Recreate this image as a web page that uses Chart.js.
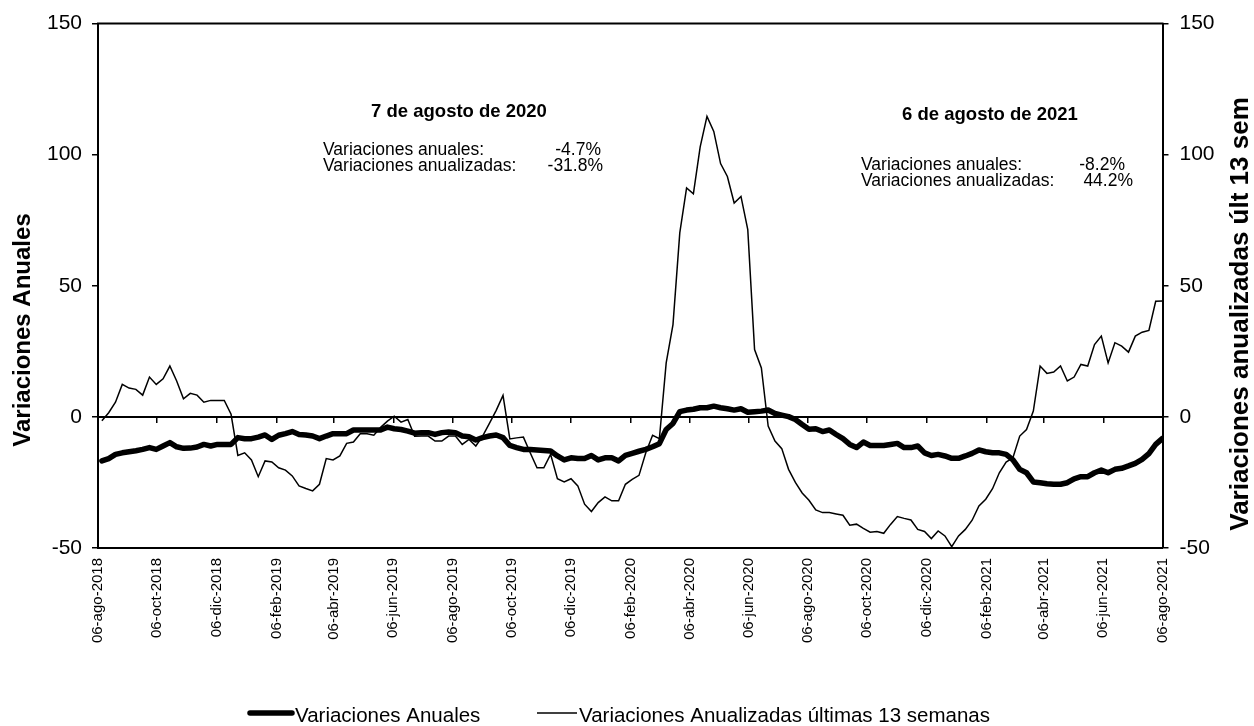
<!DOCTYPE html>
<html lang="es">
<head>
<meta charset="utf-8">
<title>Variaciones anuales y anualizadas</title>
<script src="https://cdn.jsdelivr.net/npm/chart.js@4.4.1/dist/chart.umd.min.js"></script>
<style>
  html, body { margin: 0; padding: 0; background: #fff; }
  canvas { display: block; }
</style>
</head>
<body>
<canvas id="grafico" width="1254" height="726"></canvas>
<script>
// etiquetas del eje de fechas (cada 2 meses)
const etiquetasX = ['06-ago-2018', '06-oct-2018', '06-dic-2018', '06-feb-2019', '06-abr-2019',
  '06-jun-2019', '06-ago-2019', '06-oct-2019', '06-dic-2019', '06-feb-2020', '06-abr-2020',
  '06-jun-2020', '06-ago-2020', '06-oct-2020', '06-dic-2020', '06-feb-2021', '06-abr-2021',
  '06-jun-2021', '06-ago-2021'];
const ticksY = [-50, 0, 50, 100, 150];

// datos semanales, viernes desde 10-ago-2018 hasta 06-ago-2021
const primerViernes = '10-ago-2018';
const variacionesAnuales = [
  -16.8, -15.9, -14.3, -13.7, -13.3, -12.9, -12.4, -11.7, -12.4, -11.1,
  -9.8, -11.4, -12.0, -11.9, -11.5, -10.5, -11.1, -10.5, -10.5, -10.5,
  -7.9, -8.3, -8.3, -7.7, -6.9, -8.6, -7.0, -6.4, -5.6, -6.7,
  -6.9, -7.3, -8.3, -7.3, -6.4, -6.4, -6.4, -5.0, -5.0, -5.0,
  -5.0, -5.0, -3.9, -4.5, -4.8, -5.4, -6.2, -6.0, -6.0, -6.7,
  -6.0, -5.8, -6.0, -7.3, -7.6, -8.8, -7.9, -7.3, -6.9, -7.9,
  -10.9, -11.7, -12.4, -12.4, -12.6, -12.8, -13.0, -14.9, -16.4, -15.6,
  -15.9, -15.9, -14.7, -16.4, -15.6, -15.6, -16.8, -14.7, -13.9, -13.1,
  -12.4, -11.4, -10.2, -4.8, -2.5, 2.0, 2.6, 2.9, 3.5, 3.5,
  4.1, 3.5, 3.1, 2.6, 3.1, 1.8, 2.0, 2.2, 2.6, 1.3,
  0.7, 0.1, -1.0, -2.9, -4.7, -4.5, -5.6, -5.0, -6.7, -8.3,
  -10.5, -11.7, -9.6, -10.9, -10.9, -10.9, -10.5, -10.1, -11.7, -11.7,
  -11.1, -13.7, -14.7, -14.3, -14.9, -15.8, -15.8, -14.9, -13.9, -12.6,
  -13.3, -13.7, -13.7, -14.3, -16.4, -20.0, -21.3, -24.8, -25.1, -25.5,
  -25.7, -25.7, -25.1, -23.6, -22.8, -22.8, -21.3, -20.3, -21.3, -20.0,
  -19.6, -18.7, -17.7, -16.2, -14.0, -10.5, -8.2
];
const variacionesAnualizadas = [
  -1.5, 1.6, 5.6, 12.4, 11.0, 10.5, 8.3, 15.2, 12.4, 14.5,
  19.4, 13.7, 6.9, 9.0, 8.3, 5.6, 6.3, 6.3, 6.3, 1.0,
  -14.7, -13.7, -16.4, -22.8, -16.8, -17.2, -19.4, -20.3, -22.5, -26.3,
  -27.3, -28.2, -25.7, -15.9, -16.4, -14.9, -10.1, -9.6, -6.4, -6.4,
  -7.0, -4.0, -1.6, 0.3, -2.0, -1.0, -7.4, -7.3, -7.3, -9.2,
  -9.2, -7.3, -7.3, -10.5, -8.6, -11.1, -7.3, -2.5, 2.5, 8.2,
  -8.4, -8.0, -7.7, -13.7, -19.4, -19.4, -14.3, -23.6, -24.8, -23.6,
  -26.3, -33.3, -36.1, -32.7, -30.5, -32.0, -32.0, -25.7, -23.8, -22.3,
  -13.7, -7.0, -8.3, 20.6, 35.2, 70.2, 87.3, 85.1, 103.0, 114.6,
  108.9, 96.6, 91.7, 81.6, 84.1, 71.4, 25.7, 18.7, -3.5, -9.2,
  -12.1, -20.0, -25.0, -29.0, -31.8, -35.5, -36.5, -36.5, -37.0, -37.5,
  -41.3, -40.9, -42.5, -44.0, -43.7, -44.4, -41.0, -38.0, -38.7, -39.3,
  -42.9, -43.7, -46.4, -43.5, -45.4, -49.5, -45.4, -42.9, -39.4, -34.0,
  -31.4, -27.4, -21.3, -17.2, -15.6, -7.3, -4.8, 2.2, 19.4, 16.6,
  17.1, 19.4, 13.7, 15.2, 20.0, 19.4, 27.6, 30.8, 20.6, 28.3,
  27.0, 24.7, 30.8, 32.3, 33.0, 44.1, 44.2
];

const notas = [
  { titulo: '7 de agosto de 2020', anual: '-4.7%', anualizada: '-31.8%' },
  { titulo: '6 de agosto de 2021', anual: '-8.2%', anualizada: '44.2%' }
];

const FUENTE = '"Liberation Sans", Arial, sans-serif';
const meses = { ene: 0, feb: 1, mar: 2, abr: 3, may: 4, jun: 5, jul: 6, ago: 7, sep: 8, oct: 9, nov: 10, dic: 11 };
function dia(txt) { // dias desde 06-ago-2018
  const p = txt.split('-');
  return (Date.UTC(+p[2], meses[p[1]], +p[0]) - Date.UTC(2018, 7, 6)) / 86400000;
}
const diasX = etiquetasX.map(dia);
const nombreTick = {};
diasX.forEach((d, i) => { nombreTick[d] = etiquetasX[i]; });
const d0 = dia(primerViernes);
const puntos = arr => arr.map((v, i) => ({ x: d0 + 7 * i, y: v }));

function ticksFecha(scale) { scale.ticks = diasX.map(v => ({ value: v })); }

const decoracion = {
  id: 'decoracion',
  afterDraw(chart) {
    const ctx = chart.ctx, a = chart.chartArea;
    ctx.save();
    ctx.strokeStyle = '#000';
    ctx.lineWidth = 2;
    ctx.beginPath();
    ctx.moveTo(a.left - 1, a.top);
    ctx.lineTo(a.right + 1, a.top);
    ctx.stroke();

    ctx.fillStyle = '#000';
    // titulos de ejes
    ctx.font = 'bold 24px ' + FUENTE;
    ctx.textAlign = 'center';
    ctx.textBaseline = 'middle';
    ctx.save();
    ctx.translate(23, 330);
    ctx.rotate(-Math.PI / 2);
    ctx.fillText('Variaciones Anuales', 0, 0);
    ctx.restore();
    ctx.font = 'bold 26px ' + FUENTE;
    ctx.save();
    ctx.translate(1241, 314);
    ctx.rotate(-Math.PI / 2);
    ctx.fillText('Variaciones anualizadas últ 13 sem', 0, 0);
    ctx.restore();

    // recuadros de texto
    const cajas = [
      { cx: 459, yt: 117, x: 323, y1: 155, y2: 171, r1: 601, r2: 603 },
      { cx: 990, yt: 120, x: 861, y1: 170, y2: 186, r1: 1125, r2: 1133 }
    ];
    ctx.textBaseline = 'alphabetic';
    notas.forEach((n, i) => {
      const c = cajas[i];
      ctx.font = 'bold 18.5px ' + FUENTE;
      ctx.textAlign = 'center';
      ctx.fillText(n.titulo, c.cx, c.yt);
      ctx.font = '17.5px ' + FUENTE;
      ctx.textAlign = 'left';
      ctx.fillText('Variaciones anuales:', c.x, c.y1);
      ctx.fillText('Variaciones anualizadas:', c.x, c.y2);
      ctx.textAlign = 'right';
      ctx.fillText(n.anual, c.r1, c.y1);
      ctx.fillText(n.anualizada, c.r2, c.y2);
    });

    // leyenda
    const ds = chart.data.datasets;
    const items = [{ x1: 250, x2: 292, tx: 295 }, { x1: 537, x2: 577, tx: 579 }];
    ctx.font = '20.5px ' + FUENTE;
    ctx.textAlign = 'left';
    items.forEach((it, i) => {
      ctx.lineWidth = ds[i].borderWidth;
      ctx.lineCap = i === 0 ? 'round' : 'butt';
      ctx.beginPath();
      ctx.moveTo(it.x1, 713);
      ctx.lineTo(it.x2, 713);
      ctx.stroke();
      ctx.fillText(ds[i].label, it.tx, 722);
    });
    ctx.restore();
  }
};

new Chart(document.getElementById('grafico'), {
  type: 'line',
  data: {
    datasets: [
      {
        label: 'Variaciones Anuales',
        data: puntos(variacionesAnuales),
        yAxisID: 'y',
        borderColor: '#000',
        borderWidth: 5.5,
        borderJoinStyle: 'round',
        borderCapStyle: 'round',
        pointRadius: 0,
        tension: 0
      },
      {
        label: 'Variaciones Anualizadas últimas 13 semanas',
        data: puntos(variacionesAnualizadas),
        yAxisID: 'y1',
        borderColor: '#000',
        borderWidth: 1.5,
        pointRadius: 0,
        tension: 0
      }
    ]
  },
  options: {
    responsive: false,
    animation: false,
    devicePixelRatio: 1,
    layout: { padding: { top: 23, left: 0, right: 0, bottom: 0 } },
    plugins: { legend: { display: false }, tooltip: { enabled: false } },
    scales: {
      x: {
        type: 'linear',
        position: 'bottom',
        min: 0,
        max: diasX[diasX.length - 1],
        afterBuildTicks: ticksFecha,
        afterFit(s) { s.height = 178; },
        grid: { drawOnChartArea: false, drawTicks: false },
        border: { display: true, color: '#000', width: 2 },
        ticks: {
          autoSkip: false,
          minRotation: 90,
          maxRotation: 90,
          padding: 10,
          color: '#000',
          font: { family: FUENTE, size: 15 },
          callback: v => nombreTick[v] || ''
        }
      },
      x0: {
        type: 'linear',
        position: { y: 0 },
        min: 0,
        max: diasX[diasX.length - 1],
        afterBuildTicks: ticksFecha,
        grid: { drawOnChartArea: false, drawTicks: true, tickLength: 5, color: '#000', lineWidth: 1.5 },
        border: { display: true, color: '#000', width: 2 },
        ticks: { display: false }
      },
      y: {
        position: 'left',
        min: -50,
        max: 150,
        afterBuildTicks(s) { s.ticks = ticksY.map(v => ({ value: v })); },
        afterFit(s) { s.width = 98; },
        grid: { drawOnChartArea: false, drawTicks: true, tickLength: 6, color: '#000', lineWidth: 1.5 },
        border: { display: true, color: '#000', width: 2 },
        ticks: { padding: 10, color: '#000', font: { family: FUENTE, size: 21 } }
      },
      y1: {
        position: 'right',
        min: -50,
        max: 150,
        afterBuildTicks(s) { s.ticks = ticksY.map(v => ({ value: v })); },
        afterFit(s) { s.width = 91.5; },
        grid: { drawOnChartArea: false, drawTicks: true, tickLength: 6, color: '#000', lineWidth: 1.5 },
        border: { display: true, color: '#000', width: 2 },
        ticks: { padding: 11, color: '#000', font: { family: FUENTE, size: 21 } }
      }
    }
  },
  plugins: [decoracion]
});
</script>
</body>
</html>
